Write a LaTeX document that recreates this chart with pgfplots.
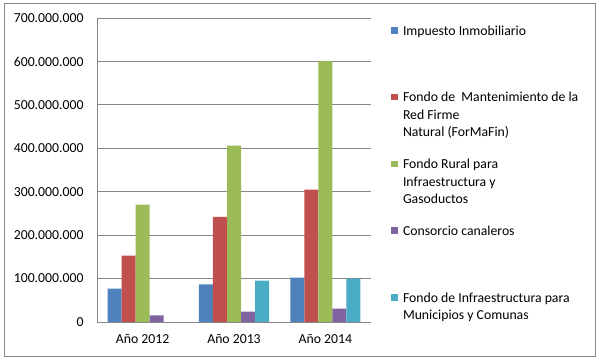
\documentclass[border=0pt]{standalone}
\usepackage{fontspec}
\setmainfont{Carlito}
\usepackage{pgfplots}
\pgfplotsset{compat=1.18}
\definecolor{cA}{HTML}{4F81BD}
\definecolor{cB}{HTML}{C0504D}
\definecolor{cC}{HTML}{9BBB59}
\definecolor{cD}{HTML}{8064A2}
\definecolor{cE}{HTML}{4BACC6}
\definecolor{gridgray}{HTML}{868686}
\definecolor{framegray}{HTML}{868686}
\newcommand{\legtxt}[1]{\parbox[t]{195bp}{\fontsize{13.8}{17.5}\selectfont #1}}
\begin{document}
\begin{tikzpicture}
\path (0,0) rectangle (599bp,362bp);
\draw[color=framegray, line width=1bp] (4.5bp,5.5bp) rectangle (595.5bp,358.5bp);
\begin{axis}[
  at={(97bp,40bp)}, anchor=south west, scale only axis,
  width=274bp, height=304bp,
  ybar=0pt, bar width=14bp,
  xmin=-0.5, xmax=2.5, ymin=0, ymax=700000000,
  xtick={0,1,2}, xticklabels={Año 2012, Año 2013, Año 2014},
  ytick={0,100000000,200000000,300000000,400000000,500000000,600000000,700000000},
  yticklabels={0,100.000.000,200.000.000,300.000.000,400.000.000,500.000.000,600.000.000,700.000.000},
  scaled y ticks=false,
  axis x line*=bottom, axis y line*=left,
  axis line style={-, draw=gridgray},
  every outer x axis line/.append style={-},
  every outer y axis line/.append style={-},
  ymajorgrids, grid style={draw=gridgray, line width=0.8bp},
  major tick length=0pt,
  /pgf/number format/assume math mode=true,
  tick label style={font=\fontsize{13.8}{16}\selectfont},
  yticklabel style={xshift=-10bp},
  xticklabel style={yshift=-8.5bp},
  legend style={at={(1,1)}, anchor=north west, xshift=20bp, yshift=-7.2bp,
    draw=none, fill=none, inner sep=0pt, outer sep=0pt, row sep=0pt,
    nodes={inner sep=0pt, outer sep=0pt, text height=10bp, text depth=56.75bp},
    cells={anchor=base west}, column sep=5bp},
  legend image code/.code={\fill[#1] (0bp,1.5bp) rectangle (7bp,8bp);},
]
\addplot[fill=cA, draw=none] coordinates {(0,76700000) (1,86600000) (2,102000000)};
\addplot[fill=cB, draw=none] coordinates {(0,152700000) (1,242000000) (2,305000000)};
\addplot[fill=cC, draw=none] coordinates {(0,270000000) (1,406000000) (2,601000000)};
\addplot[fill=cD, draw=none] coordinates {(0,15000000) (1,24000000) (2,31000000)};
\addplot[fill=cE, draw=none] coordinates {(1,95000000) (2,100000000)};
\legend{\legtxt{Impuesto Inmobiliario},
  \legtxt{Fondo de~ Mantenimiento de la\\Red Firme\\Natural (ForMaFin)},
  \legtxt{Fondo Rural para\\Infraestructura y\\Gasoductos},
  \legtxt{Consorcio canaleros},
  \legtxt{Fondo de Infraestructura para\\Municipios y Comunas}}
\end{axis}
\end{tikzpicture}
\end{document}
